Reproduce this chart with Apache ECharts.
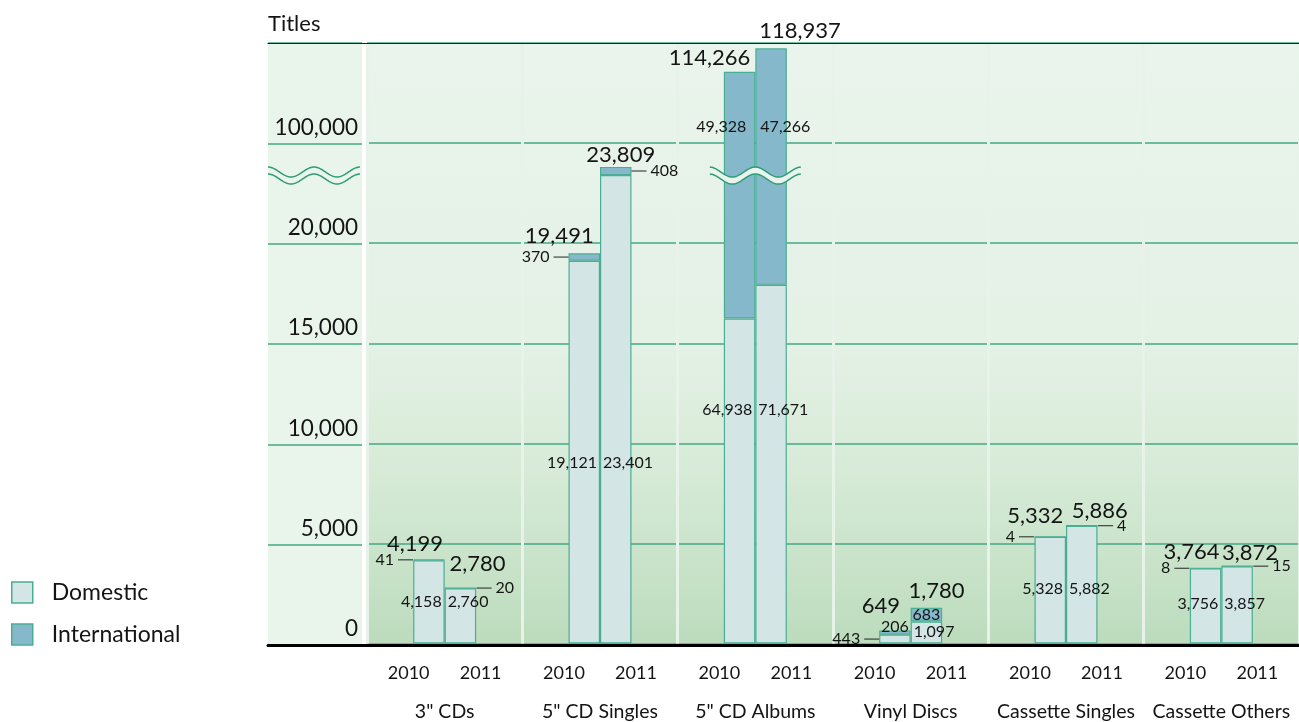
<!DOCTYPE html>
<html>
<head>
<meta charset="utf-8">
<script src="https://cdn.jsdelivr.net/npm/echarts@6/dist/echarts.min.js"></script>
<style>
  html, body { margin: 0; padding: 0; background: #fff; }
  #chart { width: 1299px; height: 722px; }
</style>
</head>
<body>
<div id="chart"></div>
<script>
const categories = ['3" CDs', '5" CD Singles', '5" CD Albums', 'Vinyl Discs', 'Cassette Singles', 'Cassette Others'];
const years = ['2010', '2011'];
const domestic2010 = [4158, 19121, 64938, 443, 5328, 3756];
const international2010 = [41, 370, 49328, 206, 4, 8];
const domestic2011 = [2760, 23401, 71671, 1097, 5882, 3857];
const international2011 = [20, 408, 47266, 683, 4, 15];

// broken value axis: 0..25,000 drawn as is, 25,000 on the axis stands for 100,000,
// above that one axis unit is 4 titles
const breakAt = 25000, breakValue = 100000, upperScale = 4;
const axisMax = 30000, axisStep = 5000;

// layout
const gridTop = 43, gridBottom = 77, chartH = 722;
const barW = 31.5;
const ink = '#141414';
const domColor = '#d3e5e5', intlColor = '#86b8cc', edge = '#4aae93';
const gridGreen = '#45a885';
const bigFont = 22, smallFont = 16;

// label placement (pixel tweaks)
const innerY = [603, 464, 411, 633, 590, 605];
const albumIntlY = 127;
const totalOffset2010 = [[-14, 0], [-25, -1], [-30, 2], [-14, -9], [-15, -5], [-14, 0]];
const totalOffset2011 = [[17, -8], [5, 4], [29, -1], [10, -1], [18, 1], [13, 3]];

const fmt = v => v.toLocaleString('en-US');
const toAxis = v => v <= breakAt ? v : breakAt + (v - breakValue) / upperScale;
const px = v => gridTop + (chartH - gridTop - gridBottom) * (1 - v / axisMax);

function splitBar(dom, intl) {
  const total = dom + intl;
  const shown = toAxis(total);
  const d = shown * dom / total;
  return { dom: d, intl: shown - d, shown: shown, total: total };
}

const bars2010 = domestic2010.map((d, i) => splitBar(d, international2010[i]));
const bars2011 = domestic2011.map((d, i) => splitBar(d, international2011[i]));

function leader(side, text) {
  return {
    show: true, position: side, distance: 0,
    formatter: side === 'left' ? '{v|' + text + '}{l| }' : '{l| }{v|' + text + '}',
    rich: {
      v: { fontSize: smallFont, lineHeight: smallFont, color: ink, fontFamily: 'Lato',
           padding: side === 'left' ? [0, 4, 0, 0] : [0, 0, 0, 4] },
      l: { width: 15, height: 1, fontSize: 1, backgroundColor: '#222' }
    }
  };
}

function domLabel(i, year) {
  const text = fmt(year === 0 ? domestic2010[i] : domestic2011[i]);
  if (i === 3 && year === 0) return leader('left', text);
  const right = year === 0;
  return {
    show: true, position: 'insideBottom', distance: 5,
    align: right ? 'right' : 'left', verticalAlign: 'middle',
    offset: [right ? barW / 2 - 3 : -barW / 2 + 3, innerY[i] - (px(0) - 5)],
    formatter: text, fontSize: smallFont, lineHeight: smallFont, color: ink
  };
}

function intlLabel(i, year) {
  const text = fmt(year === 0 ? international2010[i] : international2011[i]);
  const bar = year === 0 ? bars2010[i] : bars2011[i];
  if (i === 2) {
    const right = year === 0;
    return {
      show: true, position: 'insideTop', distance: 5,
      align: right ? 'right' : 'left', verticalAlign: 'middle',
      offset: [right ? barW / 2 - 9 : -barW / 2 + 5, albumIntlY - (px(bar.shown) + 5)],
      formatter: text, fontSize: smallFont, lineHeight: smallFont, color: ink
    };
  }
  if (i === 3) {
    if (year === 0) return { show: true, position: 'top', distance: 0, offset: [0, 4],
      formatter: text, fontSize: smallFont, lineHeight: smallFont, color: ink };
    return { show: true, position: 'inside', formatter: text, fontSize: smallFont, lineHeight: smallFont, color: ink };
  }
  return leader(year === 0 ? 'left' : 'right', text);
}

function totalLabel(i, year) {
  const bar = year === 0 ? bars2010[i] : bars2011[i];
  return {
    show: true, position: 'top', distance: 5,
    offset: year === 0 ? totalOffset2010[i] : totalOffset2011[i],
    formatter: fmt(bar.total), fontSize: bigFont, lineHeight: bigFont, color: ink
  };
}

function barSeries(name, stack, color, items) {
  return {
    type: 'bar', name: name, stack: stack, xAxisIndex: 0, yAxisIndex: 0,
    barWidth: barW, barGap: '0%', z: 2, silent: true,
    itemStyle: color ? { color: color, borderColor: edge, borderWidth: 1.2 }
                     : { color: 'rgba(0,0,0,0)', borderWidth: 0 },
    data: items
  };
}

const series = [];
[bars2010, bars2011].forEach((bars, year) => {
  const stack = 'y' + years[year];
  series.push(barSeries('Domestic', stack, domColor,
    bars.map((b, i) => ({ value: b.dom, label: domLabel(i, year) }))));
  series.push(barSeries('International', stack, intlColor,
    bars.map((b, i) => ({ value: b.intl, label: intlLabel(i, year) }))));
  series.push(barSeries('Total ' + years[year], stack, null,
    bars.map((b, i) => ({ value: 0, label: totalLabel(i, year) }))));
});

const chart = echarts.init(document.getElementById('chart'));
chart.setOption({
  animation: false,
  textStyle: { fontFamily: 'Lato', color: ink },
  title: {
    text: 'Titles', left: 268, top: 13, padding: 0,
    textStyle: { fontSize: 22, fontWeight: 'normal', color: ink, fontFamily: 'Lato' }
  },
  legend: {
    orient: 'vertical', left: 11, top: 581, padding: 0,
    itemWidth: 21, itemHeight: 21, itemGap: 19, icon: 'rect', selectedMode: false,
    itemStyle: { borderColor: edge, borderWidth: 1.5 },
    textStyle: { fontSize: 23, color: ink, fontFamily: 'Lato', padding: [0, 0, 0, 14] },
    data: ['Domestic', 'International']
  },
  grid: [
    { left: 367, right: -9, top: gridTop, bottom: gridBottom, show: true, borderWidth: 0,
      backgroundColor: { type: 'linear', x: 0, y: 0, x2: 0, y2: 1, colorStops: [
        { offset: 0, color: '#eaf4ec' }, { offset: 0.5, color: '#e4f1e5' },
        { offset: 0.7, color: '#d8ebd8' }, { offset: 1, color: '#bcdcbd' }] } },
    { left: 268, width: 94, top: gridTop, bottom: gridBottom, show: true, borderWidth: 0,
      backgroundColor: '#e9f4ea' },
    { left: 268, right: -9, top: gridTop, bottom: gridBottom, show: false }
  ],
  xAxis: [
    { gridIndex: 0, type: 'category', data: categories, z: 1,
      axisLine: { show: false }, axisTick: { show: false },
      splitLine: { show: true, interval: 0, lineStyle: { width: 3, color: '#e7f2e8' } },
      axisLabel: {
        interval: 0, margin: 10, color: ink,
        formatter: v => '{y|' + years[0] + '}{y|' + years[1] + '}\n{n|' + v + '}',
        rich: {
          y: { width: 72, align: 'center', fontSize: 18, lineHeight: 39, color: ink, fontFamily: 'Lato' },
          n: { fontSize: 19.5, lineHeight: 39, color: ink, fontFamily: 'Lato' }
        }
      } },
    { gridIndex: 1, type: 'value', show: false },
    { gridIndex: 2, type: 'value', position: 'bottom', min: 0, max: 1, z: 3,
      axisLine: { show: true, onZero: false, lineStyle: { color: '#000', width: 3 } },
      axisTick: { show: false }, axisLabel: { show: false }, splitLine: { show: false } },
    { gridIndex: 2, type: 'value', position: 'top', min: 0, max: 1, z: 3,
      axisLine: { show: true, onZero: false, lineStyle: { color: '#222', width: 1.2 } },
      axisTick: { show: false }, axisLabel: { show: false }, splitLine: { show: false } }
  ],
  yAxis: [
    { gridIndex: 0, type: 'value', min: 0, max: axisMax, interval: axisStep, z: 0,
      axisLine: { show: false }, axisTick: { show: false }, axisLabel: { show: false },
      splitLine: { lineStyle: { color: gridGreen, width: 1.5 } } },
    { gridIndex: 1, type: 'value', position: 'right', min: 0, max: axisMax, interval: axisStep, z: 0,
      axisLine: { show: false }, axisTick: { show: false },
      splitLine: { lineStyle: { color: gridGreen, width: 1.5 } },
      axisLabel: {
        inside: true, margin: 4, fontSize: 22.5, lineHeight: 22, color: ink,
        verticalAlign: 'bottom', padding: [0, 0, 5, 0], showMinLabel: true, showMaxLabel: true,
        formatter: v => v === breakAt ? fmt(breakValue) : v > breakAt ? '' : fmt(v)
      } },
    { gridIndex: 2, type: 'value', min: 0, max: 1, show: false }
  ],
  series: series
});

// wavy break marks
const waveY = px(23570);
function wave(x0, x1, xPeak) {
  const period = 46, amp = 5, gap = 7;
  const top = [], bot = [];
  for (let x = x0; x <= x1 + 0.01; x += 1) {
    const y = waveY - amp * Math.cos(2 * Math.PI * (x - xPeak) / period);
    top.push([x, y]);
    bot.push([x, y + gap]);
  }
  const line = { stroke: '#2f9c78', lineWidth: 1.5, fill: null };
  return [
    { type: 'polygon', z: 10, silent: true, shape: { points: top.concat(bot.slice().reverse()) },
      style: { fill: '#eaf4ec' } },
    { type: 'polyline', z: 11, silent: true, shape: { points: top }, style: line },
    { type: 'polyline', z: 11, silent: true, shape: { points: bot }, style: line }
  ];
}
const albumX = chart.convertToPixel({ xAxisIndex: 0 }, categories[2]);
chart.setOption({
  graphic: { elements: wave(268, 360, 268).concat(wave(albumX - 45.5, albumX + 45.5, albumX)) }
});
</script>
</body>
</html>
